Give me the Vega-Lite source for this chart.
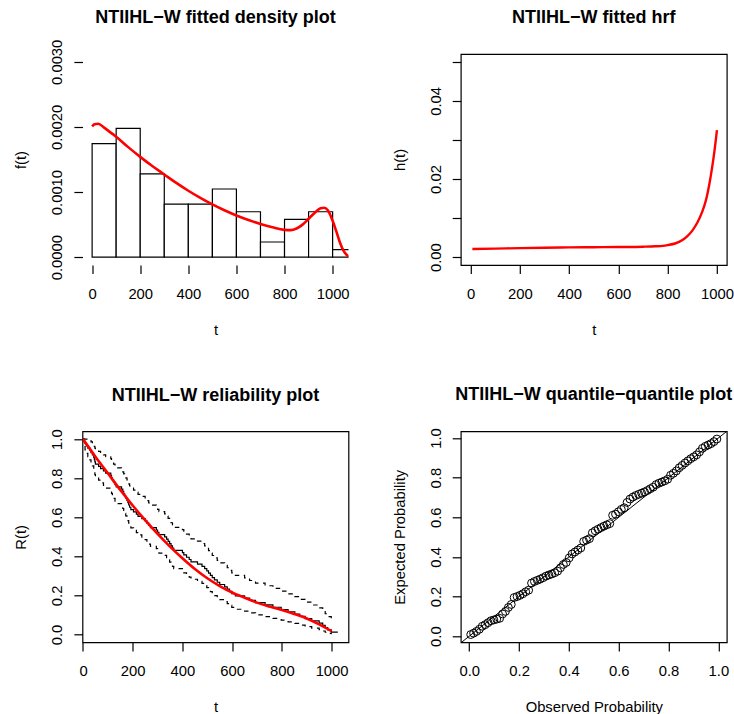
{
  "$schema": "https://vega.github.io/schema/vega-lite/v6.json",
  "background": "white",
  "padding": {"left": 12.5, "top": 8, "right": 0, "bottom": 0},
  "config": {
    "font": "Liberation Sans",
    "view": {"stroke": "black", "strokeWidth": 1.2},
    "axis": {
      "grid": false, "domain": false,
      "tickColor": "black", "tickWidth": 1.2, "tickSize": 8.6,
      "labelColor": "black", "labelFont": "Liberation Sans", "labelFontSize": 14.8,
      "titleColor": "black", "titleFont": "Liberation Sans", "titleFontSize": 14.8, "titleFontWeight": "normal",
      "labelFlush": false, "labelOverlap": false, "labelBound": false
    },
    "title": {"font": "Liberation Sans", "fontSize": 18, "fontWeight": "bold", "color": "black", "anchor": "middle", "frame": "group", "baseline": "alphabetic"}
  },
  "columns": 2,
  "spacing": {"row": 166.3, "column": 112.3},
  "bounds": "flush",
  "concat": [
    {
      "width": 266, "height": 211,
      "view": {"stroke": null},
      "title": {"text": "NTIIHL−W fitted density plot", "offset": 12.5},
      "layer": [
        {
          "data": {"values": [
            {"x0": 0, "x1": 100, "dens": 0.001744},
            {"x0": 100, "x1": 200, "dens": 0.001977},
            {"x0": 200, "x1": 300, "dens": 0.001279},
            {"x0": 300, "x1": 400, "dens": 0.000814},
            {"x0": 400, "x1": 500, "dens": 0.000814},
            {"x0": 500, "x1": 600, "dens": 0.001047},
            {"x0": 600, "x1": 700, "dens": 0.000698},
            {"x0": 700, "x1": 800, "dens": 0.000233},
            {"x0": 800, "x1": 900, "dens": 0.000581},
            {"x0": 900, "x1": 1000, "dens": 0.000698},
            {"x0": 1000, "x1": 1100, "dens": 0.000116}
          ]},
          "mark": {"type": "rect", "fill": "white", "stroke": "black", "strokeWidth": 1.2, "clip": true},
          "encoding": {
            "x": {"field": "x0", "type": "quantitative",
                  "scale": {"domain": [-40, 1066], "nice": false, "zero": false},
                  "axis": {"values": [0, 200, 400, 600, 800, 1000], "format": "d", "title": "t",
                           "labelBaseline": "alphabetic", "labelPadding": 24.5,
                           "titleBaseline": "alphabetic", "titleX": 133, "titleY": 69.5}},
            "x2": {"field": "x1"},
            "y": {"field": "dens", "type": "quantitative",
                  "scale": {"domain": [-0.00012, 0.00312], "nice": false, "zero": false},
                  "axis": {"values": [0, 0.0005, 0.001, 0.0015, 0.002, 0.0025, 0.003],
                           "labelExpr": "round(datum.value*10000) % 10 == 0 ? format(datum.value, '.4f') : ''",
                           "title": "f(t)", "labelAngle": -90, "labelAlign": "center", "labelBaseline": "alphabetic", "labelPadding": 12,
                           "titleAngle": -90, "titleAlign": "center", "titleBaseline": "alphabetic", "titleX": -56.7, "titleY": 105.5}},
            "y2": {"datum": 0}
          }
        },
        {
          "data": {"values": [
            {"t": 0, "f": 0.00201}, {"t": 10, "f": 0.00204}, {"t": 25, "f": 0.00205}, {"t": 50, "f": 0.00199},
            {"t": 75, "f": 0.00192}, {"t": 100, "f": 0.00185}, {"t": 150, "f": 0.00169}, {"t": 200, "f": 0.00154},
            {"t": 250, "f": 0.0014}, {"t": 300, "f": 0.00127}, {"t": 350, "f": 0.00114}, {"t": 400, "f": 0.00102},
            {"t": 450, "f": 0.00091}, {"t": 500, "f": 0.00081}, {"t": 550, "f": 0.00072}, {"t": 600, "f": 0.00064},
            {"t": 650, "f": 0.00057}, {"t": 700, "f": 0.00051}, {"t": 750, "f": 0.00046}, {"t": 800, "f": 0.00042},
            {"t": 825, "f": 0.000415}, {"t": 850, "f": 0.00044}, {"t": 875, "f": 0.0005}, {"t": 900, "f": 0.00059},
            {"t": 925, "f": 0.00068}, {"t": 950, "f": 0.00075}, {"t": 965, "f": 0.00076}, {"t": 980, "f": 0.00072},
            {"t": 1000, "f": 0.00056}, {"t": 1015, "f": 0.0004}, {"t": 1030, "f": 0.00023}, {"t": 1045, "f": 0.0001},
            {"t": 1060, "f": 0.00003}, {"t": 1080, "f": 0.0}
          ]},
          "mark": {"type": "line", "color": "red", "strokeWidth": 2.6, "interpolate": "monotone", "clip": true},
          "encoding": {
            "x": {"field": "t", "type": "quantitative"},
            "y": {"field": "f", "type": "quantitative"}
          }
        },
        {
          "mark": {"type": "rule", "color": "black", "strokeWidth": 1.2},
          "encoding": {"x": {"datum": 0}, "x2": {"datum": 1000}, "y": {"datum": -0.00012}}
        },
        {
          "mark": {"type": "rule", "color": "black", "strokeWidth": 1.2},
          "encoding": {"x": {"datum": -40}, "y": {"datum": 0}, "y2": {"datum": 0.003}}
        }
      ]
    },
    {
      "width": 266, "height": 211,
      "title": {"text": "NTIIHL−W fitted hrf", "offset": 27},
      "data": {"values": [
        {"t": 7, "h": 0.0021}, {"t": 100, "h": 0.0022}, {"t": 200, "h": 0.00232}, {"t": 300, "h": 0.00242},
        {"t": 400, "h": 0.0025}, {"t": 500, "h": 0.00255}, {"t": 600, "h": 0.0026}, {"t": 700, "h": 0.00268},
        {"t": 750, "h": 0.00278}, {"t": 780, "h": 0.0029}, {"t": 800, "h": 0.0031}, {"t": 830, "h": 0.0035},
        {"t": 860, "h": 0.0044}, {"t": 880, "h": 0.0054}, {"t": 900, "h": 0.0068}, {"t": 920, "h": 0.0088},
        {"t": 940, "h": 0.0116}, {"t": 955, "h": 0.0145}, {"t": 970, "h": 0.019}, {"t": 980, "h": 0.0228},
        {"t": 990, "h": 0.0272}, {"t": 1000, "h": 0.0325}
      ]},
      "mark": {"type": "line", "color": "red", "strokeWidth": 2.4, "interpolate": "monotone", "clip": true},
      "encoding": {
        "x": {"field": "t", "type": "quantitative",
              "scale": {"domain": [-40, 1040], "nice": false, "zero": false},
              "axis": {"values": [0, 200, 400, 600, 800, 1000], "format": "d", "title": "t",
                       "labelBaseline": "alphabetic", "labelPadding": 24.5,
                       "titleBaseline": "alphabetic", "titleX": 133, "titleY": 69.5}},
        "y": {"field": "h", "type": "quantitative",
              "scale": {"domain": [-0.002, 0.052], "nice": false, "zero": false},
              "axis": {"values": [0, 0.01, 0.02, 0.03, 0.04, 0.05],
                       "labelExpr": "round(datum.value*100) % 2 == 0 ? format(datum.value, '.2f') : ''",
                       "title": "h(t)", "labelAngle": -90, "labelAlign": "center", "labelBaseline": "alphabetic", "labelPadding": 12,
                       "titleAngle": -90, "titleAlign": "center", "titleBaseline": "alphabetic", "titleX": -56.7, "titleY": 105.5}}
      }
    },
    {
      "width": 266, "height": 211,
      "title": {"text": "NTIIHL−W reliability plot", "offset": 24},
      "layer": [
        {
          "data": {"name": "km"},
          "mark": {"type": "line", "color": "black", "strokeWidth": 1.2, "interpolate": "step-after", "clip": true},
          "encoding": {
            "x": {"field": "t", "type": "quantitative",
                  "scale": {"domain": [-2, 1068], "nice": false, "zero": false},
                  "axis": {"values": [0, 200, 400, 600, 800, 1000], "format": "d", "title": "t",
                           "labelBaseline": "alphabetic", "labelPadding": 24.5,
                           "titleBaseline": "alphabetic", "titleX": 133, "titleY": 69.5}},
            "y": {"field": "S", "type": "quantitative",
                  "scale": {"domain": [-0.04, 1.04], "nice": false, "zero": false},
                  "axis": {"values": [0, 0.2, 0.4, 0.6, 0.8, 1.0], "format": ".1f",
                           "title": "R(t)", "labelAngle": -90, "labelAlign": "center", "labelBaseline": "alphabetic", "labelPadding": 12,
                           "titleAngle": -90, "titleAlign": "center", "titleBaseline": "alphabetic", "titleX": -56.7, "titleY": 105.5}}
          }
        },
        {
          "data": {"name": "km"},
          "mark": {"type": "line", "color": "black", "strokeWidth": 1.2, "strokeDash": [4.5, 4.5], "interpolate": "step-after", "clip": true},
          "encoding": {
            "x": {"field": "t", "type": "quantitative"},
            "y": {"field": "up", "type": "quantitative"}
          }
        },
        {
          "data": {"name": "km"},
          "mark": {"type": "line", "color": "black", "strokeWidth": 1.2, "strokeDash": [4.5, 4.5], "interpolate": "step-after", "clip": true},
          "encoding": {
            "x": {"field": "t", "type": "quantitative"},
            "y": {"field": "lo", "type": "quantitative"}
          }
        },
        {
          "data": {"values": [
            {"t": 0, "R": 1}, {"t": 50, "R": 0.91}, {"t": 100, "R": 0.825}, {"t": 150, "R": 0.74},
            {"t": 200, "R": 0.66}, {"t": 250, "R": 0.585}, {"t": 300, "R": 0.515}, {"t": 350, "R": 0.45},
            {"t": 400, "R": 0.39}, {"t": 450, "R": 0.335}, {"t": 500, "R": 0.288}, {"t": 550, "R": 0.248},
            {"t": 600, "R": 0.215}, {"t": 650, "R": 0.188}, {"t": 700, "R": 0.163}, {"t": 750, "R": 0.143},
            {"t": 800, "R": 0.125}, {"t": 850, "R": 0.105}, {"t": 900, "R": 0.082}, {"t": 950, "R": 0.052},
            {"t": 1000, "R": 0.017}
          ]},
          "mark": {"type": "line", "color": "red", "strokeWidth": 2.6, "interpolate": "monotone", "clip": true},
          "encoding": {
            "x": {"field": "t", "type": "quantitative"},
            "y": {"field": "R", "type": "quantitative"}
          }
        }
      ]
    },
    {
      "width": 266, "height": 211,
      "title": {"text": "NTIIHL−W quantile−quantile plot", "offset": 24},
      "layer": [
        {
          "data": {"name": "qq"},
          "mark": {"type": "point", "shape": "circle", "filled": false, "stroke": "black", "strokeWidth": 1.0, "size": 62, "opacity": 1},
          "encoding": {
            "x": {"field": "u", "type": "quantitative",
                  "scale": {"domain": [-0.034, 1.034], "nice": false, "zero": false},
                  "axis": {"values": [0, 0.2, 0.4, 0.6, 0.8, 1.0], "format": ".1f", "title": "Observed Probability",
                           "labelBaseline": "alphabetic", "labelPadding": 24.5,
                           "titleBaseline": "alphabetic", "titleX": 133, "titleY": 69.5}},
            "y": {"field": "v", "type": "quantitative",
                  "scale": {"domain": [-0.031, 1.034], "nice": false, "zero": false},
                  "axis": {"values": [0, 0.2, 0.4, 0.6, 0.8, 1.0], "format": ".1f",
                           "title": "Expected Probability", "labelAngle": -90, "labelAlign": "center", "labelBaseline": "alphabetic", "labelPadding": 12,
                           "titleAngle": -90, "titleAlign": "center", "titleBaseline": "alphabetic", "titleX": -56.7, "titleY": 105.5}}
          }
        },
        {
          "data": {"values": [{"a": -0.2}, {"a": 1.2}]},
          "mark": {"type": "line", "color": "black", "strokeWidth": 1, "clip": true},
          "encoding": {
            "x": {"field": "a", "type": "quantitative"},
            "y": {"field": "a", "type": "quantitative"}
          }
        }
      ]
    }
  ],
  "datasets": {
    "km": [
      {"t": 0, "S": 1, "up": 1, "lo": 1},
      {"t": 4.4, "S": 0.9884, "up": 1, "lo": 0.966},
      {"t": 8.3, "S": 0.9767, "up": 1, "lo": 0.9453},
      {"t": 13.3, "S": 0.9651, "up": 1, "lo": 0.9271},
      {"t": 19.4, "S": 0.9535, "up": 0.9991, "lo": 0.910},
      {"t": 27.8, "S": 0.9419, "up": 0.9927, "lo": 0.8937},
      {"t": 32.2, "S": 0.9302, "up": 0.9857, "lo": 0.8779},
      {"t": 37.8, "S": 0.9186, "up": 0.9782, "lo": 0.8626},
      {"t": 43.3, "S": 0.9070, "up": 0.9705, "lo": 0.8477},
      {"t": 45.6, "S": 0.8953, "up": 0.9624, "lo": 0.8329},
      {"t": 47.8, "S": 0.8837, "up": 0.9541, "lo": 0.8185},
      {"t": 50, "S": 0.8721, "up": 0.9456, "lo": 0.8043},
      {"t": 62.9, "S": 0.8605, "up": 0.9369, "lo": 0.7903},
      {"t": 70.6, "S": 0.8488, "up": 0.928, "lo": 0.7764},
      {"t": 82.4, "S": 0.8372, "up": 0.919, "lo": 0.7627},
      {"t": 91.2, "S": 0.8256, "up": 0.9098, "lo": 0.7492},
      {"t": 111.8, "S": 0.8140, "up": 0.9005, "lo": 0.7358},
      {"t": 114.7, "S": 0.8023, "up": 0.8911, "lo": 0.7224},
      {"t": 118.2, "S": 0.7907, "up": 0.8815, "lo": 0.7092},
      {"t": 122.9, "S": 0.7791, "up": 0.8719, "lo": 0.6962},
      {"t": 128.8, "S": 0.7674, "up": 0.8621, "lo": 0.6831},
      {"t": 133.5, "S": 0.7558, "up": 0.8523, "lo": 0.6703},
      {"t": 155, "S": 0.7442, "up": 0.8424, "lo": 0.6575},
      {"t": 160, "S": 0.7326, "up": 0.8324, "lo": 0.6448},
      {"t": 163.8, "S": 0.7209, "up": 0.8222, "lo": 0.6321},
      {"t": 167.5, "S": 0.7093, "up": 0.8121, "lo": 0.6195},
      {"t": 171.9, "S": 0.6977, "up": 0.8019, "lo": 0.6071},
      {"t": 176.9, "S": 0.6860, "up": 0.7915, "lo": 0.5946},
      {"t": 180.6, "S": 0.6744, "up": 0.7811, "lo": 0.5823},
      {"t": 183.8, "S": 0.6628, "up": 0.7706, "lo": 0.5700},
      {"t": 187.5, "S": 0.6512, "up": 0.7601, "lo": 0.5579},
      {"t": 192.5, "S": 0.6395, "up": 0.7495, "lo": 0.5456},
      {"t": 203.3, "S": 0.6279, "up": 0.7388, "lo": 0.5336},
      {"t": 214.7, "S": 0.6163, "up": 0.7282, "lo": 0.5216},
      {"t": 221.3, "S": 0.6047, "up": 0.7174, "lo": 0.5097},
      {"t": 236.7, "S": 0.5930, "up": 0.7065, "lo": 0.4977},
      {"t": 250, "S": 0.5814, "up": 0.6956, "lo": 0.4860},
      {"t": 257.1, "S": 0.5698, "up": 0.6847, "lo": 0.4742},
      {"t": 264.3, "S": 0.5581, "up": 0.6736, "lo": 0.4624},
      {"t": 271.4, "S": 0.5465, "up": 0.6625, "lo": 0.4508},
      {"t": 295, "S": 0.5349, "up": 0.6515, "lo": 0.4392},
      {"t": 300, "S": 0.5233, "up": 0.6403, "lo": 0.4277},
      {"t": 305.4, "S": 0.5116, "up": 0.6290, "lo": 0.4161},
      {"t": 328.5, "S": 0.5, "up": 0.6177, "lo": 0.4048},
      {"t": 336.2, "S": 0.4884, "up": 0.6063, "lo": 0.3934},
      {"t": 342.3, "S": 0.4767, "up": 0.5948, "lo": 0.3820},
      {"t": 348.5, "S": 0.4651, "up": 0.5834, "lo": 0.3708},
      {"t": 354.2, "S": 0.4535, "up": 0.5719, "lo": 0.3596},
      {"t": 360, "S": 0.4419, "up": 0.5604, "lo": 0.3485},
      {"t": 365, "S": 0.4302, "up": 0.5487, "lo": 0.3373},
      {"t": 400, "S": 0.4186, "up": 0.5370, "lo": 0.3263},
      {"t": 405.5, "S": 0.4070, "up": 0.5253, "lo": 0.3154},
      {"t": 416.4, "S": 0.3953, "up": 0.5134, "lo": 0.3044},
      {"t": 427.3, "S": 0.3837, "up": 0.5015, "lo": 0.2936},
      {"t": 434.5, "S": 0.3721, "up": 0.4897, "lo": 0.2827},
      {"t": 460.6, "S": 0.3605, "up": 0.4777, "lo": 0.2721},
      {"t": 478.7, "S": 0.3488, "up": 0.4656, "lo": 0.2613},
      {"t": 489.4, "S": 0.3372, "up": 0.4535, "lo": 0.2507},
      {"t": 497.9, "S": 0.3256, "up": 0.4414, "lo": 0.2402},
      {"t": 505, "S": 0.3140, "up": 0.4291, "lo": 0.2297},
      {"t": 512.5, "S": 0.3023, "up": 0.4168, "lo": 0.2193},
      {"t": 520, "S": 0.2907, "up": 0.4044, "lo": 0.2090},
      {"t": 528.8, "S": 0.2791, "up": 0.3920, "lo": 0.1987},
      {"t": 540, "S": 0.2674, "up": 0.3794, "lo": 0.1885},
      {"t": 550, "S": 0.2558, "up": 0.3668, "lo": 0.1784},
      {"t": 569.7, "S": 0.2442, "up": 0.3542, "lo": 0.1684},
      {"t": 580.3, "S": 0.2326, "up": 0.3415, "lo": 0.1584},
      {"t": 589.4, "S": 0.2209, "up": 0.3285, "lo": 0.1485},
      {"t": 598.5, "S": 0.2093, "up": 0.3156, "lo": 0.1388},
      {"t": 613, "S": 0.1977, "up": 0.3026, "lo": 0.1291},
      {"t": 650, "S": 0.1860, "up": 0.2894, "lo": 0.1195},
      {"t": 670, "S": 0.1744, "up": 0.2762, "lo": 0.1101},
      {"t": 694, "S": 0.1628, "up": 0.2629, "lo": 0.1008},
      {"t": 732.5, "S": 0.1512, "up": 0.2495, "lo": 0.0916},
      {"t": 763.9, "S": 0.1395, "up": 0.2358, "lo": 0.0825},
      {"t": 797.2, "S": 0.1279, "up": 0.2221, "lo": 0.0737},
      {"t": 825, "S": 0.1163, "up": 0.2083, "lo": 0.0649},
      {"t": 852.2, "S": 0.1047, "up": 0.1943, "lo": 0.0564},
      {"t": 871.7, "S": 0.0930, "up": 0.1799, "lo": 0.0481},
      {"t": 893.5, "S": 0.0814, "up": 0.1656, "lo": 0.0400},
      {"t": 920, "S": 0.0698, "up": 0.1510, "lo": 0.0323},
      {"t": 950, "S": 0.0581, "up": 0.1360, "lo": 0.0248},
      {"t": 964.3, "S": 0.0465, "up": 0.1211, "lo": 0.0179},
      {"t": 974.3, "S": 0.0349, "up": 0.1061, "lo": 0.0115},
      {"t": 984.3, "S": 0.0233, "up": 0.0917, "lo": 0.0059},
      {"t": 998.6, "S": 0.0116, "up": 0.0814, "lo": 0.0017},
      {"t": 1025, "S": 0.0116, "up": null, "lo": null}
    ],
    "qq": [
      {"u": 0.0058, "v": 0.008}, {"u": 0.0174, "v": 0.015}, {"u": 0.0291, "v": 0.024}, {"u": 0.0407, "v": 0.035},
      {"u": 0.0523, "v": 0.050}, {"u": 0.0640, "v": 0.058}, {"u": 0.0756, "v": 0.068}, {"u": 0.0872, "v": 0.078},
      {"u": 0.0988, "v": 0.082}, {"u": 0.1105, "v": 0.086}, {"u": 0.1221, "v": 0.090}, {"u": 0.1337, "v": 0.112},
      {"u": 0.1453, "v": 0.125}, {"u": 0.1570, "v": 0.145}, {"u": 0.1686, "v": 0.160}, {"u": 0.1802, "v": 0.195},
      {"u": 0.1919, "v": 0.200}, {"u": 0.2035, "v": 0.206}, {"u": 0.2151, "v": 0.214}, {"u": 0.2267, "v": 0.224},
      {"u": 0.2384, "v": 0.232}, {"u": 0.2500, "v": 0.268}, {"u": 0.2616, "v": 0.276}, {"u": 0.2733, "v": 0.282},
      {"u": 0.2849, "v": 0.288}, {"u": 0.2965, "v": 0.295}, {"u": 0.3081, "v": 0.303}, {"u": 0.3198, "v": 0.309},
      {"u": 0.3314, "v": 0.314}, {"u": 0.3430, "v": 0.320}, {"u": 0.3547, "v": 0.328}, {"u": 0.3663, "v": 0.345},
      {"u": 0.3779, "v": 0.362}, {"u": 0.3895, "v": 0.372}, {"u": 0.4012, "v": 0.395}, {"u": 0.4128, "v": 0.415},
      {"u": 0.4244, "v": 0.425}, {"u": 0.4360, "v": 0.435}, {"u": 0.4477, "v": 0.445}, {"u": 0.4593, "v": 0.478},
      {"u": 0.4709, "v": 0.485}, {"u": 0.4826, "v": 0.492}, {"u": 0.4942, "v": 0.522}, {"u": 0.5058, "v": 0.532},
      {"u": 0.5174, "v": 0.540}, {"u": 0.5291, "v": 0.548}, {"u": 0.5407, "v": 0.555}, {"u": 0.5523, "v": 0.562},
      {"u": 0.5640, "v": 0.568}, {"u": 0.5756, "v": 0.610}, {"u": 0.5872, "v": 0.616}, {"u": 0.5988, "v": 0.628},
      {"u": 0.6105, "v": 0.640}, {"u": 0.6221, "v": 0.648}, {"u": 0.6337, "v": 0.675}, {"u": 0.6453, "v": 0.692},
      {"u": 0.6570, "v": 0.702}, {"u": 0.6686, "v": 0.710}, {"u": 0.6802, "v": 0.716}, {"u": 0.6919, "v": 0.722},
      {"u": 0.7035, "v": 0.728}, {"u": 0.7151, "v": 0.735}, {"u": 0.7267, "v": 0.744}, {"u": 0.7384, "v": 0.752},
      {"u": 0.7500, "v": 0.765}, {"u": 0.7616, "v": 0.772}, {"u": 0.7733, "v": 0.778}, {"u": 0.7849, "v": 0.784},
      {"u": 0.7965, "v": 0.792}, {"u": 0.8081, "v": 0.812}, {"u": 0.8198, "v": 0.822}, {"u": 0.8314, "v": 0.834},
      {"u": 0.8430, "v": 0.850}, {"u": 0.8547, "v": 0.862}, {"u": 0.8663, "v": 0.874}, {"u": 0.8779, "v": 0.885},
      {"u": 0.8895, "v": 0.896}, {"u": 0.9012, "v": 0.905}, {"u": 0.9128, "v": 0.915}, {"u": 0.9244, "v": 0.930},
      {"u": 0.9360, "v": 0.948}, {"u": 0.9477, "v": 0.958}, {"u": 0.9593, "v": 0.965}, {"u": 0.9709, "v": 0.972},
      {"u": 0.9826, "v": 0.982}, {"u": 0.9942, "v": 0.995}
    ]
  }
}
